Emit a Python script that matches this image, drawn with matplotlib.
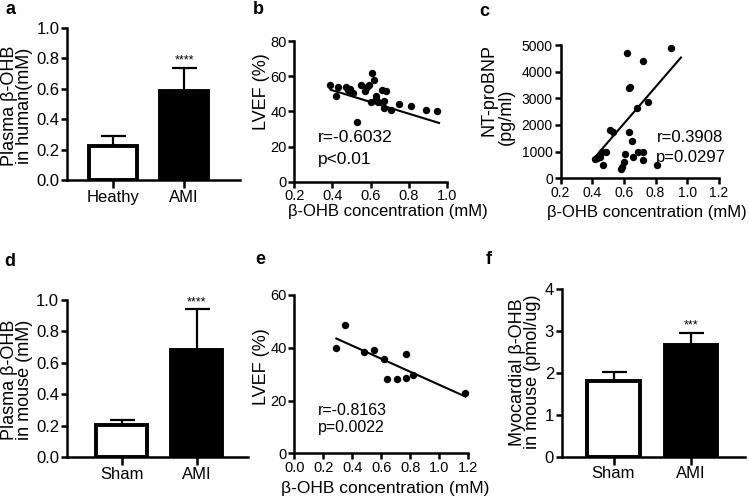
import matplotlib.pyplot as plt

# ── Data ───────────────────────────────────────────────────────────────────
# a: human plasma β-OHB
a_groups = ["Heathy", "AMI"]
a_means = [0.222, 0.586]
a_errs = [0.067, 0.148]

# b: LVEF vs β-OHB (human)
b_x = [0.39, 0.42, 0.43, 0.47, 0.48, 0.49, 0.50, 0.51, 0.53, 0.55, 0.57, 0.58,
       0.59, 0.60, 0.61, 0.62, 0.63, 0.63, 0.64, 0.66, 0.67, 0.67, 0.68, 0.71,
       0.75, 0.81, 0.89, 0.95]
b_y = [55, 49, 54, 54, 52, 52.5, 51, 50.5, 34, 55, 51.5, 54,
       55, 45.5, 62, 58, 47, 48.5, 45.5, 52, 46, 42, 51.5, 40.5,
       44, 43, 41, 40]
b_fit_x = [0.39, 0.96]
b_fit_y = [52.3, 33.4]

# c: NT-proBNP vs β-OHB (human)
c_x = [0.42, 0.43, 0.45, 0.46, 0.47, 0.49, 0.51, 0.53, 0.58, 0.59, 0.60, 0.61,
       0.62, 0.63, 0.64, 0.63, 0.65, 0.66, 0.68, 0.69, 0.72, 0.72, 0.72, 0.75,
       0.81, 0.90]
c_y = [725, 750, 810, 1000, 500, 975, 1810, 1750, 350, 440, 625, 910,
       4690, 3380, 3430, 1750, 1400, 790, 2650, 975, 975, 690, 4400, 2875,
       500, 4900]
c_fit_x = [0.42, 0.96]
c_fit_y = [810, 4530]

# d: mouse plasma β-OHB
d_groups = ["Sham", "AMI"]
d_means = [0.205, 0.683]
d_errs = [0.028, 0.257]

# e: LVEF vs β-OHB (mouse)
e_x = [0.29, 0.35, 0.48, 0.55, 0.62, 0.64, 0.71, 0.77, 0.77, 0.82, 1.18]
e_y = [39.8, 48.8, 38.4, 39.0, 35.8, 28.0, 28.3, 28.4, 37.8, 29.7, 23.0]
e_fit_x = [0.29, 1.18]
e_fit_y = [43.5, 21.5]

# f: myocardial β-OHB
f_groups = ["Sham", "AMI"]
f_means = [1.80, 2.66]
f_errs = [0.22, 0.29]

plt.rcParams.update({
    "font.family": ["Liberation Sans", "DejaVu Sans"],
    "axes.linewidth": 1.8,
    "xtick.major.width": 1.8, "ytick.major.width": 1.8,
    "xtick.major.size": 4, "ytick.major.size": 4,
    "xtick.major.pad": 1.5, "ytick.major.pad": 1.5,
})

W, H = 749, 504
fig = plt.figure(figsize=(W / 100, H / 100), dpi=100)


def px_axes(l, t, r, b):
    return fig.add_axes([l / W, 1 - b / H, (r - l) / W, (b - t) / H])


def px_text(x, y, s, **kw):
    fig.text(x / W, 1 - y / H, s, **kw)


def style(ax, tick_fs):
    for side in ("top", "right"):
        ax.spines[side].set_visible(False)
    ax.tick_params(labelsize=tick_fs)


def bar_panel(ax, groups, means, errs, xlim, ylim, yticks, fmt, stars, tick_fs):
    xs = list(range(len(means)))
    ax.errorbar(xs, means, yerr=[[0] * len(errs), errs], fmt="none",
                ecolor="black", elinewidth=1.6, capsize=9, capthick=1.6, zorder=1)
    ax.bar(xs, means, width=0.68, color=["white", "black"], edgecolor="black",
           linewidth=2.8, zorder=2)
    ax.annotate(stars, xy=(xs[-1], means[-1] + errs[-1]), xytext=(0, 1),
                textcoords="offset points", ha="center", va="bottom", fontsize=9)
    ax.set_xlim(*xlim)
    ax.set_ylim(*ylim)
    ax.set_yticks(yticks)
    ax.set_yticklabels([fmt.format(v) for v in yticks])
    ax.set_xticks(xs)
    ax.set_xticklabels(groups)
    style(ax, tick_fs)
    ax.tick_params(axis="x", length=6, pad=1, labelsize=12)


def scatter_panel(ax, x, y, fx, fy, xlim, ylim, xticks, yticks, tick_fs):
    ax.plot(x, y, "o", color="black", markersize=4.3, clip_on=False)
    ax.plot(fx, fy, color="black", linewidth=1.5)
    ax.set_xlim(*xlim)
    ax.set_ylim(*ylim)
    ax.set_xticks(xticks)
    ax.set_xticklabels([f"{v:.1f}" for v in xticks])
    ax.set_yticks(yticks)
    style(ax, tick_fs)


# ── a ──────────────────────────────────────────────────────────────────────
ax_a = px_axes(67, 27.7, 240, 180)
bar_panel(ax_a, a_groups, a_means, a_errs, (-0.65, 1.79), (0, 1.0),
          [0, 0.2, 0.4, 0.6, 0.8, 1.0], "{:.1f}", "****", 12)
px_text(17, 106, "Plasma β-OHB\nin human(mM)", rotation=90, ha="center",
        va="center", fontsize=13, linespacing=0.78)

# ── b ──────────────────────────────────────────────────────────────────────
ax_b = px_axes(294.3, 41, 446.7, 181.7)
scatter_panel(ax_b, b_x, b_y, b_fit_x, b_fit_y, (0.2, 1.0), (0, 80),
              [0.2, 0.4, 0.6, 0.8, 1.0], [0, 20, 40, 60, 80], 10.5)
ax_b.text(0.325, 25.4, "r=-0.6032", fontsize=12.5, va="center")
ax_b.text(0.325, 12.9, "p<0.01", fontsize=12.5, va="center")
px_text(388, 211, "β-OHB concentration (mM)", ha="center", va="center", fontsize=12)
px_text(261, 92, "LVEF (%)", rotation=90, ha="center", va="center", fontsize=13)

# ── c ──────────────────────────────────────────────────────────────────────
ax_c = px_axes(560.5, 45, 719, 178.3)
scatter_panel(ax_c, c_x, c_y, c_fit_x, c_fit_y, (0.2, 1.2), (0, 5000),
              [0.2, 0.4, 0.6, 0.8, 1.0, 1.2], [0, 1000, 2000, 3000, 4000, 5000], 10)
ax_c.text(0.81, 1512, "r=0.3908", fontsize=12, va="center")
ax_c.text(0.80, 762, "p=0.0297", fontsize=12, va="center")
px_text(647, 212, "β-OHB concentration (mM)", ha="center", va="center", fontsize=12)
px_text(489, 90, "NT-proBNP", rotation=90, ha="center", va="center", fontsize=13)
px_text(506, 117, "(pg/ml)", rotation=90, ha="center", va="center", fontsize=13)

# ── d ──────────────────────────────────────────────────────────────────────
ax_d = px_axes(66.7, 300, 248, 457)
bar_panel(ax_d, d_groups, d_means, d_errs, (-0.73, 1.68), (0, 1.0),
          [0, 0.2, 0.4, 0.6, 0.8, 1.0], "{:.1f}", "****", 12)
px_text(17, 380, "Plasma β-OHB\nin mouse (mM)", rotation=90, ha="center",
        va="center", fontsize=13, linespacing=0.78)

# ── e ──────────────────────────────────────────────────────────────────────
ax_e = px_axes(294.3, 295, 468.3, 453.3)
scatter_panel(ax_e, e_x, e_y, e_fit_x, e_fit_y, (0.0, 1.2), (0, 60),
              [0.0, 0.2, 0.4, 0.6, 0.8, 1.0, 1.2], [0, 20, 40, 60], 10.5)
ax_e.text(0.166, 16.1, "r=-0.8163", fontsize=11.5, va="center")
ax_e.text(0.166, 9.6, "p=0.0022", fontsize=11.5, va="center")
px_text(385, 489, "β-OHB concentration (mM)", ha="center", va="center", fontsize=12.5)
px_text(261, 367, "LVEF (%)", rotation=90, ha="center", va="center", fontsize=13)

# ── f ──────────────────────────────────────────────────────────────────────
ax_f = px_axes(561.7, 289.3, 745, 456.7)
bar_panel(ax_f, f_groups, f_means, f_errs, (-0.67, 1.70), (0, 4),
          [0, 1, 2, 3, 4], "{:d}", "***", 12)
px_text(525, 372, "Myocardial β-OHB\nin mouse (pmol/ug)", rotation=90,
        ha="center", va="center", fontsize=13, linespacing=0.85)

# panel letters
for letter, x, y in [("a", 10, 9), ("b", 258, 9), ("c", 484, 12),
                     ("d", 10, 262), ("e", 260, 260), ("f", 489, 260)]:
    px_text(x, y, letter, ha="center", va="center", fontsize=13, fontweight="bold")

fig.savefig("out.png", dpi=100)
